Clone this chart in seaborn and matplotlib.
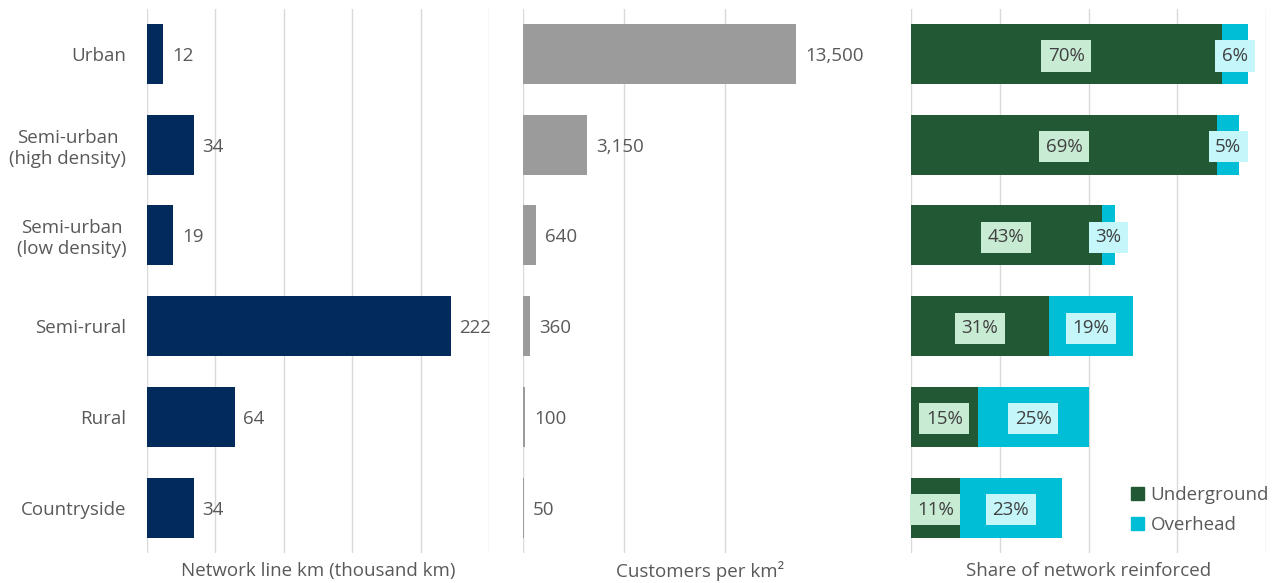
import numpy as np
import pandas as pd
import matplotlib.pyplot as plt
import seaborn as sns
from matplotlib.patches import Patch

# white style, then the font list (set_theme resets font.family)
sns.set_theme(style="white")
plt.rcParams["font.family"] = ["Open Sans", "DejaVu Sans"]

# data
categories = ["Urban", "Semi-urban\n(high density)", "Semi-urban\n(low density)",
              "Semi-rural", "Rural", "Countryside"]
line_km = [12, 34, 19, 222, 64, 34]
customers_per_km2 = [13500, 3150, 640, 360, 100, 50]
underground_pct = [70, 69, 43, 31, 15, 11]
overhead_pct = [6, 5, 3, 19, 25, 23]

df = pd.DataFrame({
    "category": categories,
    "line_km": line_km,
    "customers": customers_per_km2,
    "underground": underground_pct,
    "overhead": overhead_pct,
})
df["total"] = df["underground"] + df["overhead"]

# colours
navy = "#022b5c"
grey = "#9b9b9b"
green = "#235835"
cyan = "#00bed6"
text_col = "#595959"
grid_col = "#d9d9d9"
fs = 13.5

W, H = 1277, 583
fig = plt.figure(figsize=(W / 100, H / 100), dpi=100)
top_px, bot_px = 8.6, 553
ax_b = 1 - bot_px / H
ax_h = (bot_px - top_px) / H

ax1 = fig.add_axes([147 / W, ax_b, 342 / W, ax_h])
ax2 = fig.add_axes([523 / W, ax_b, 354 / W, ax_h])
ax3 = fig.add_axes([911 / W, ax_b, 355 / W, ax_h])

bar_w = 0.66

# panel 1: network line km
sns.barplot(data=df, x="line_km", y="category", color=navy, saturation=1,
            width=bar_w, linewidth=0, ax=ax1)
for i, v in enumerate(df["line_km"]):
    ax1.text(v + 6.5, i, f"{v:,}", va="center_baseline", ha="left", fontsize=fs, color=text_col)
ax1.set_xlim(0, 250)
ax1.set_xticks(np.arange(0, 251, 50))

# panel 2: customers per km2
sns.barplot(data=df, x="customers", y="category", color=grey, saturation=1,
            width=bar_w, linewidth=0, ax=ax2)
for i, v in enumerate(df["customers"]):
    ax2.text(v + 450, i, f"{v:,}", va="center_baseline", ha="left", fontsize=fs, color=text_col)
ax2.set_xlim(0, 17500)
ax2.set_xticks([0, 5000, 10000])

# panel 3: stacked share (total drawn first, underground on top)
sns.barplot(data=df, x="total", y="category", color=cyan, saturation=1,
            width=bar_w, linewidth=0, ax=ax3)
sns.barplot(data=df, x="underground", y="category", color=green, saturation=1,
            width=bar_w, linewidth=0, ax=ax3)
for i, (u, o) in enumerate(zip(df["underground"], df["overhead"])):
    ax3.text(u / 2, i, f"{u}%", va="center_baseline", ha="center", fontsize=fs, color="#404040",
             bbox=dict(boxstyle="square,pad=0.35", fc="#c8ebd3", ec="none"))
    ax3.text(u + o / 2, i, f"{o}%", va="center_baseline", ha="center", fontsize=fs, color="#404040",
             bbox=dict(boxstyle="square,pad=0.35", fc="#c4f6fa", ec="none"))
ax3.set_xlim(0, 80)
ax3.set_xticks(np.arange(0, 81, 20))

handles = [Patch(color=green, label="Underground"), Patch(color=cyan, label="Overhead")]
leg = ax3.legend(handles=handles, loc="center left", bbox_to_anchor=(0.619, 0.079),
                 frameon=False, fontsize=fs, handlelength=0.7, handleheight=0.7,
                 handletextpad=0.35, labelspacing=0.65, borderaxespad=0, borderpad=0,
                 labelcolor=text_col)

xlabels = ["Network line km (thousand km)", "Customers per km\u00b2", "Share of network reinforced"]
for ax, lab in zip([ax1, ax2, ax3], xlabels):
    ax.set_ylim(5.5, -0.5)
    ax.xaxis.grid(True, color=grid_col, linewidth=1)
    ax.yaxis.grid(False)
    ax.set_axisbelow(True)
    ax.patch.set_alpha(0)
    for s in ax.spines.values():
        s.set_visible(False)
    ax.tick_params(axis="x", length=0, labelbottom=False)
    ax.tick_params(axis="y", length=0)
    ax.set_ylabel("")
    ax.set_xlabel(lab, fontsize=fs, color=text_col)
    ax.xaxis.set_label_coords(0.5, -18 / (bot_px - top_px))
    ax.xaxis.label.set_va("center")

ax1.tick_params(axis="y", pad=15, labelsize=fs, labelcolor=text_col)
for t in ax1.get_yticklabels():
    t.set_multialignment("center")
ax2.set_yticklabels([])
ax3.set_yticklabels([])

fig.savefig("out.png", dpi=100)
